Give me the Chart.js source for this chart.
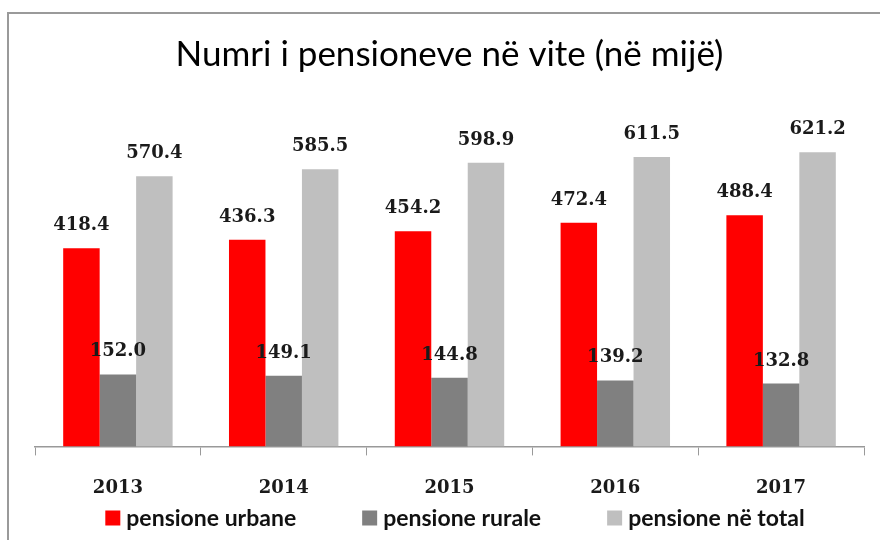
<!DOCTYPE html>
<html lang="sq">
<head>
<meta charset="UTF-8">
<title>Numri i pensioneve</title>
<script src="https://cdn.jsdelivr.net/npm/chart.js"></script>
<style>
  html, body { margin: 0; padding: 0; background: #fff; }
  #wrap { width: 880px; height: 540px; position: relative; }
</style>
</head>
<body>
<div id="wrap"><canvas id="pensionChart"></canvas></div>
<script>
const years = ['2013', '2014', '2015', '2016', '2017'];
const urbane = [418.4, 436.3, 454.2, 472.4, 488.4];
const rurale = [152.0, 149.1, 144.8, 139.2, 132.8];
const totali = [570.4, 585.5, 598.9, 611.5, 621.2];
const seriesNames = ['pensione urbane', 'pensione rurale', 'pensione në total'];
const seriesColors = ['#ff0000', '#808080', '#bfbfbf'];

// frame, value labels and the legend row
const extras = {
  id: 'extras',
  beforeDraw(chart) {
    const c = chart.ctx;
    c.save();
    c.strokeStyle = '#9a9a9a';
    c.lineWidth = 2;
    c.beginPath();
    c.moveTo(8, 540);
    c.lineTo(8, 13);
    c.lineTo(880, 13);
    c.stroke();
    c.restore();
  },
  afterDatasetsDraw(chart) {
    const c = chart.ctx;
    c.save();
    c.font = 'bold 18px "DejaVu Serif"';
    c.fillStyle = '#1a1a1a';
    c.textAlign = 'center';
    c.textBaseline = 'alphabetic';
    chart.data.datasets.forEach((ds, i) => {
      chart.getDatasetMeta(i).data.forEach((bar, j) => {
        c.fillText(ds.data[j].toFixed(1), bar.x, bar.y - 18);
      });
    });

    // legend
    c.font = 'bold 23px Lato';
    c.textAlign = 'left';
    c.textBaseline = 'middle';
    const box = 15, gapText = 6, gapItem = 66, y = 518;
    const items = chart.data.datasets.map(ds => ({
      text: ds.label, color: ds.backgroundColor, w: c.measureText(ds.label).width
    }));
    let total = 0;
    items.forEach((it, k) => { total += box + gapText + it.w + (k ? gapItem : 0); });
    let x = 455 - total / 2;
    items.forEach(it => {
      c.fillStyle = it.color;
      c.fillRect(x, y - box / 2, box, box);
      c.fillStyle = '#111';
      c.fillText(it.text, x + box + gapText, y + 1);
      x += box + gapText + it.w + gapItem;
    });
    c.restore();
  }
};

new Chart(document.getElementById('pensionChart'), {
  type: 'bar',
  data: {
    labels: years,
    datasets: [
      { label: seriesNames[0], data: urbane, backgroundColor: seriesColors[0] },
      { label: seriesNames[1], data: rurale, backgroundColor: seriesColors[1] },
      { label: seriesNames[2], data: totali, backgroundColor: seriesColors[2] }
    ]
  },
  options: {
    responsive: true,
    maintainAspectRatio: false,
    animation: false,
    layout: { padding: { left: 35, right: 16, bottom: 19 } },
    datasets: { bar: { categoryPercentage: 0.66, barPercentage: 1.0 } },
    plugins: {
      legend: { display: false },
      tooltip: { enabled: false },
      title: {
        display: true,
        text: 'Numri i pensioneve në vite (në mijë)',
        color: '#000',
        font: { family: 'Lato', size: 35, weight: 'normal', lineHeight: 1.2 },
        padding: { top: 34, bottom: 39 }
      }
    },
    scales: {
      y: { display: false, min: 0, max: 700 },
      x: {
        grid: { display: true, drawOnChartArea: false, tickLength: 9, color: '#999' },
        border: { display: true, color: '#999', width: 1.5 },
        ticks: {
          color: '#1a1a1a',
          padding: 22,
          font: { family: 'DejaVu Serif', size: 18, weight: 'bold' }
        }
      }
    }
  },
  plugins: [extras]
});
</script>
</body>
</html>
